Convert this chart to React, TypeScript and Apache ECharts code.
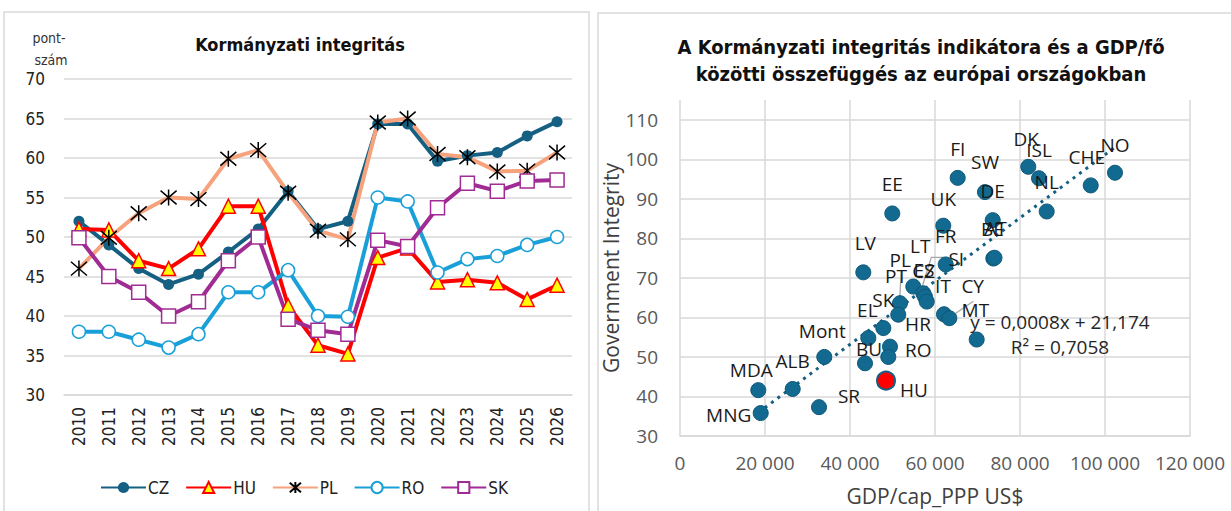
import React, { useEffect, useRef } from "react";
import * as echarts from "echarts";

// ---------- Left chart data ----------
const years = ["2010", "2011", "2012", "2013", "2014", "2015", "2016", "2017", "2018", "2019", "2020", "2021", "2022", "2023", "2024", "2025", "2026"];
const czValues = [52.0, 49.0, 46.0, 44.0, 45.3, 48.1, 51.0, 55.8, 51.0, 52.0, 64.3, 64.3, 59.6, 60.3, 60.7, 62.8, 64.6];
const huValues = [51.0, 50.9, 47.0, 46.0, 48.5, 53.9, 53.9, 41.3, 36.3, 35.2, 47.4, 48.6, 44.3, 44.6, 44.2, 42.1, 43.9];
const plValues = [46.0, 49.9, 53.0, 55.0, 54.8, 59.9, 61.0, 55.6, 50.8, 49.7, 64.5, 65.0, 60.5, 60.1, 58.3, 58.4, 60.7];
const roValues = [38.0, 38.0, 37.0, 36.0, 37.7, 43.0, 43.0, 45.8, 40.0, 39.9, 55.0, 54.5, 45.5, 47.2, 47.6, 49.0, 50.0];
const skValues = [49.9, 45.0, 43.0, 40.0, 41.8, 47.0, 50.0, 39.6, 38.2, 37.7, 49.6, 48.8, 53.7, 56.8, 55.8, 57.1, 57.2];

// ---------- Right chart data ----------
const countries = ["DK", "ISL", "NO", "FI", "SW", "CHE", "NL", "DE", "EE", "UK", "BE", "AT", "FR", "LV", "LT", "SI", "ES", "CZ", "PT", "PL", "IT", "MT", "CY", "SK", "EL", "HR", "RO", "BU", "HU", "Mont", "ALB", "MDA", "MNG", "SR"];
const gdpPerCapita = [81950, 84470, 102350, 65340, 71760, 96640, 86280, 73580, 49950, 61950, 73720, 74000, 62520, 43130, 54890, 57250, 57650, 58050, 51760, 51360, 62120, 63370, 69810, 47840, 44310, 49410, 49010, 43530, 48470, 33950, 26520, 18420, 18990, 32710];
const integrity = [98.1, 95.2, 96.6, 95.3, 91.7, 93.4, 86.8, 84.6, 86.3, 83.2, 74.9, 75.1, 73.4, 71.4, 67.8, 66.1, 65.2, 64.0, 63.6, 60.7, 60.8, 59.8, 54.4, 57.3, 54.8, 52.6, 50.0, 48.4, 44.0, 50.0, 41.9, 41.6, 35.8, 37.3];
const trendSlope = 0.0008;
const trendIntercept = 21.174;
const trendText = "y = 0,0008x + 21,174";
const r2Text = "R² = 0,7058";

// label placement (pixels, relative to point centre) – layout only
const labelOffsets: Record<string, [number, number]> = {
  DK: [-2, -28], ISL: [0, -28], NO: [0, -28], FI: [0, -29], SW: [0, -30], CHE: [-4, -28], NL: [0, -29],
  DE: [0, -29], EE: [0, -29], UK: [0, -27], BE: [-1, -30], AT: [1, -30], FR: [0, -28], LV: [2, -29],
  LT: [7, -41], SI: [33, -34], ES: [-1, -27], CZ: [-3, -31], PT: [-4, -27], PL: [2, -55], IT: [-1, -28],
  MT: [26, -8], CY: [-4, -54], SK: [0, -28], EL: [-1, -28], HR: [28, -23], RO: [30, -7], BU: [4, -14],
  HU: [28, 9], Mont: [-2, -26], ALB: [0, -28], MDA: [-7, -20], MNG: [-32, 2], SR: [30, -11],
};
// leader-line shapes (pixels, relative to point centre) – layout only
const leaderShapes: Record<string, [number, number][]> = {
  PL: [[1, -8], [3, -44]],
  SI: [[-1, -7], [8, -36], [20, -36]],
  MT: [[5, -4], [24, -17]],
};
const leaderLabels = ["SI", "PL", "MT"];

const NARROW = "'Liberation Sans Narrow', 'Arial Narrow', 'DejaVu Sans Condensed', sans-serif";
const SANS = "'Open Sans', 'Liberation Sans', sans-serif";

const starPath = "path://M0,0L12,12M12,0L0,12M6,-1L6,13";

function fmtThousands(v: number): string {
  return String(v).replace(/\B(?=(\d{3})+(?!\d))/g, " ");
}

export default function App() {
  const ref = useRef<HTMLDivElement>(null);

  useEffect(() => {
    if (!ref.current) return;
    const chart = echarts.init(ref.current, undefined, { renderer: "svg" });

    const xMin = Math.min(...gdpPerCapita);
    const xMax = Math.max(...gdpPerCapita);

    const scatterData = countries.map((c, i) => {
      const item: any = { name: c, value: [gdpPerCapita[i], integrity[i]] };
      if (c === "HU") {
        item.symbolSize = 18;
        item.itemStyle = { color: "#FF0000", borderColor: "#156082", borderWidth: 2 };
        item.z = 5;
      }
      return item;
    });

    const leaderData = leaderLabels.map((c) => {
      const i = countries.indexOf(c);
      return [gdpPerCapita[i], integrity[i]];
    });

    const lineCommon = {
      type: "line",
      xAxisIndex: 0,
      yAxisIndex: 0,
      showSymbol: true,
    };

    const option: any = {
      animation: false,
      backgroundColor: "#ffffff",
      graphic: [
        { type: "rect", shape: { x: 4, y: 12, width: 585, height: 530 }, style: { fill: "none", stroke: "#d9d9d9", lineWidth: 1.5 }, silent: true },
        { type: "rect", shape: { x: 598, y: 13, width: 660, height: 530 }, style: { fill: "none", stroke: "#d9d9d9", lineWidth: 1.5 }, silent: true },
        { type: "text", x: 49, y: 38, style: { text: "pont-", fill: "#333", font: `14px ${NARROW}`, textAlign: "center", textVerticalAlign: "middle" } },
        { type: "text", x: 51, y: 60, style: { text: "szám", fill: "#333", font: `14px ${NARROW}`, textAlign: "center", textVerticalAlign: "middle" } },
        { type: "text", x: 300, y: 44, style: { text: "Kormányzati integritás", fill: "#111", font: `bold 18px ${NARROW}`, textAlign: "center", textVerticalAlign: "middle" } },
        { type: "text", x: 921, y: 47, style: { text: "A Kormányzati integritás indikátora és a GDP/fő", fill: "#111", font: `bold 20px ${NARROW}`, textAlign: "center", textVerticalAlign: "middle" } },
        { type: "text", x: 921, y: 74, style: { text: "közötti összefüggés az európai országokban", fill: "#111", font: `bold 20px ${NARROW}`, textAlign: "center", textVerticalAlign: "middle" } },
        { type: "text", x: 1060, y: 322, z: 10, style: { text: trendText, fill: "#262626", font: `19px ${SANS}`, textAlign: "center", textVerticalAlign: "middle" } },
        { type: "text", x: 1060, y: 347, z: 10, style: { text: r2Text, fill: "#262626", font: `19px ${SANS}`, textAlign: "center", textVerticalAlign: "middle" } },
      ],
      legend: {
        data: ["CZ", "HU", "PL", "RO", "SK"],
        left: 95,
        top: 474,
        itemWidth: 45,
        itemHeight: 14,
        itemGap: 16,
        textStyle: { fontSize: 17, fontFamily: NARROW, color: "#222", padding: [0, 0, 0, -3] },
      },
      grid: [
        { left: 64, top: 79, width: 508, height: 316 },
        { left: 680, top: 100, width: 510, height: 339 },
      ],
      xAxis: [
        {
          type: "category",
          gridIndex: 0,
          data: years,
          boundaryGap: true,
          axisLine: { show: true, lineStyle: { color: "#d9d9d9", width: 1.5 } },
          axisTick: { show: false },
          axisLabel: { rotate: 90, margin: 12, fontSize: 17, fontFamily: NARROW, color: "#222", interval: 0 },
          splitLine: { show: false },
        },
        {
          type: "value",
          gridIndex: 1,
          min: 0,
          max: 120000,
          interval: 20000,
          name: "GDP/cap_PPP US$",
          nameLocation: "middle",
          nameGap: 49,
          nameTextStyle: { fontSize: 21, fontFamily: SANS, color: "#404040" },
          axisLine: { show: true, lineStyle: { color: "#d9d9d9", width: 1.5 } },
          axisTick: { show: false },
          axisLabel: { margin: 17, fontSize: 19, fontFamily: SANS, color: "#595959", formatter: (v: number) => fmtThousands(v) },
          splitLine: { show: true, lineStyle: { color: "#d9d9d9", width: 1.5 } },
        },
      ],
      yAxis: [
        {
          type: "value",
          gridIndex: 0,
          min: 30,
          max: 70,
          interval: 5,
          axisLine: { show: false },
          axisTick: { show: false },
          axisLabel: { margin: 19, fontSize: 17, fontFamily: NARROW, color: "#222" },
          splitLine: { show: true, lineStyle: { color: "#d9d9d9", width: 1.5 } },
        },
        {
          type: "value",
          gridIndex: 1,
          min: 30,
          max: 115,
          interval: 10,
          name: "Government Integrity",
          nameLocation: "middle",
          nameGap: 48,
          nameTextStyle: { fontSize: 21, fontFamily: SANS, color: "#404040" },
          axisLine: { show: false },
          axisTick: { show: false },
          axisLabel: { margin: 22, fontSize: 19, fontFamily: SANS, color: "#595959", showMaxLabel: false },
          splitLine: { show: true, showMaxLine: false, lineStyle: { color: "#d9d9d9", width: 1.5 } },
        },
      ],
      series: [
        {
          ...lineCommon,
          name: "CZ",
          data: czValues,
          symbol: "circle",
          symbolSize: 11,
          lineStyle: { color: "#156082", width: 4 },
          itemStyle: { color: "#156082" },
        },
        {
          ...lineCommon,
          name: "HU",
          data: huValues,
          symbol: "triangle",
          symbolSize: 14,
          lineStyle: { color: "#FF0000", width: 4 },
          itemStyle: { color: "#FFFF00", borderColor: "#FF0000", borderWidth: 1.5 },
        },
        {
          ...lineCommon,
          name: "PL",
          data: plValues,
          symbol: starPath,
          symbolSize: 16,
          lineStyle: { color: "#F6A27C", width: 4 },
          itemStyle: { color: "#000000", borderColor: "#000000", borderWidth: 1.5 },
        },
        {
          ...lineCommon,
          name: "RO",
          data: roValues,
          symbol: "circle",
          symbolSize: 13,
          lineStyle: { color: "#1AA0D8", width: 4 },
          itemStyle: { color: "#ffffff", borderColor: "#1AA0D8", borderWidth: 1.5 },
        },
        {
          ...lineCommon,
          name: "SK",
          data: skValues,
          symbol: "rect",
          symbolSize: 14,
          lineStyle: { color: "#A02B93", width: 4 },
          itemStyle: { color: "#ffffff", borderColor: "#A02B93", borderWidth: 1.5 },
        },
        {
          type: "line",
          name: "trend",
          xAxisIndex: 1,
          yAxisIndex: 1,
          data: [
            [xMin, trendSlope * xMin + trendIntercept],
            [xMax, trendSlope * xMax + trendIntercept],
          ],
          symbol: "none",
          z: 1,
          lineStyle: { color: "#156082", width: 3, type: [3, 5] },
          silent: true,
        },
        {
          type: "custom",
          name: "leaders",
          xAxisIndex: 1,
          yAxisIndex: 1,
          z: 2,
          silent: true,
          data: leaderData,
          renderItem: (params: any, api: any) => {
            const p = api.coord([api.value(0), api.value(1)]);
            const seg = leaderShapes[leaderLabels[params.dataIndex]];
            return {
              type: "polyline",
              shape: { points: seg.map((s) => [p[0] + s[0], p[1] + s[1]]) },
              style: { stroke: "#a6a6a6", lineWidth: 1.3, fill: "none" },
            };
          },
        },
        {
          type: "scatter",
          name: "countries",
          xAxisIndex: 1,
          yAxisIndex: 1,
          data: scatterData,
          symbolSize: 15,
          z: 3,
          itemStyle: { color: "#126A91", borderColor: "#0E5878", borderWidth: 1, opacity: 1 },
          label: {
            show: true,
            position: "inside",
            formatter: "{b}",
            fontSize: 19,
            fontFamily: SANS,
            color: "#1a1a1a",
          },
          labelLayout: (params: any) => {
            const name = countries[params.dataIndex];
            const o = labelOffsets[name] || [0, -28];
            return { dx: o[0], dy: o[1] };
          },
        },
      ],
    };

    chart.setOption(option);
    return () => {
      chart.dispose();
    };
  }, []);

  return (
    <div
      ref={ref}
      style={{ position: "absolute", left: 0, top: 0, width: 1231, height: 511, background: "#fff" }}
    />
  );
}
